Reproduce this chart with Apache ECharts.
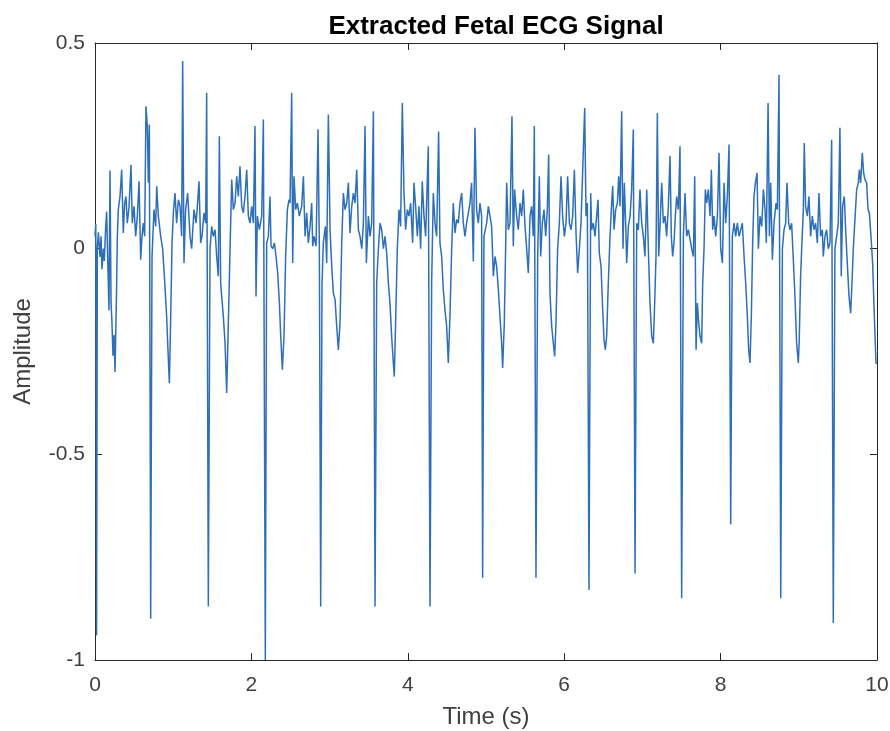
<!DOCTYPE html>
<html>
<head>
<meta charset="utf-8">
<script src="https://cdn.jsdelivr.net/npm/echarts@6/dist/echarts.min.js"></script>
<style>
  html, body { margin: 0; padding: 0; background: #fff; }
  #chart { width: 890px; height: 731px; }
</style>
</head>
<body>
<div id="chart"></div>
<script>
// samples, [time (s), amplitude], one array per ~1.25 s window
const sig0 = [[0,0.03],[0.01,0.06],[0.02,-0.94],[0.03,0.0],[0.043,0.04],[0.064,-0.02],[0.077,0.03],[0.089,-0.05],[0.107,0.0],[0.119,-0.03],[0.136,0.05],[0.149,0.09],[0.162,-0.02],[0.179,-0.15],[0.192,0.19],[0.205,-0.13],[0.217,-0.18],[0.23,-0.26],[0.243,-0.21],[0.256,-0.30],[0.273,-0.13],[0.286,0.03],[0.298,0.095],[0.32,0.127],[0.341,0.192],[0.362,0.038],[0.379,0.11],[0.396,0.127],[0.413,0.062],[0.435,0.10],[0.46,0.204],[0.477,0.062],[0.499,0.103],[0.52,0.03],[0.541,0.079],[0.563,0.164],[0.584,-0.027],[0.601,0.03],[0.618,0.062],[0.635,0.03],[0.652,0.346],[0.669,0.298],[0.682,0.16],[0.695,0.302],[0.712,-0.90],[0.729,-0.02],[0.754,0.095],[0.776,0.054],[0.789,0.152],[0.81,0.079],[0.84,0.03],[0.865,0.0],[0.895,-0.092],[0.916,-0.165],[0.938,-0.27],[0.951,-0.327],[0.968,-0.165],[0.985,0.014],[1.002,0.087],[1.023,0.135],[1.044,0.062],[1.066,0.119],[1.087,0.103],[1.108,0.03],[1.121,0.456],[1.138,-0.035],[1.159,0.095],[1.185,0.135],[1.215,0.03]];
const sig1 = [[1.236,0.0],[1.266,0.095],[1.292,0.062],[1.309,0.103],[1.33,0.164],[1.351,0.014],[1.368,0.03],[1.394,0.087],[1.415,0.062],[1.428,0.379],[1.449,-0.87],[1.471,0.0],[1.492,0.054],[1.513,0.03],[1.535,0.046],[1.556,-0.019],[1.577,-0.067],[1.59,0.273],[1.607,-0.084],[1.62,-0.116],[1.641,-0.165],[1.663,-0.23],[1.684,-0.351],[1.705,-0.181],[1.727,0.0],[1.748,0.168],[1.769,0.095],[1.791,0.111],[1.812,0.176],[1.833,0.127],[1.854,0.2],[1.876,0.103],[1.897,0.087],[1.918,0.127],[1.94,0.192],[1.961,0.079],[1.982,0.062],[2.004,0.103],[2.025,0.062],[2.046,0.298],[2.059,-0.116],[2.076,0.079],[2.102,0.046],[2.132,0.079],[2.153,0.314],[2.178,-1.0],[2.195,0.014],[2.217,0.03],[2.238,0.127],[2.251,0.006],[2.272,0.0],[2.294,0.014],[2.315,-0.019],[2.336,-0.059],[2.358,-0.132],[2.375,-0.213],[2.396,-0.294],[2.417,-0.213],[2.438,-0.019],[2.46,0.095],[2.481,0.119]];
const sig2 = [[2.494,0.111],[2.515,0.379],[2.528,-0.035],[2.545,0.176],[2.566,0.095],[2.588,0.111],[2.613,0.079],[2.643,0.103],[2.665,0.176],[2.686,0.03],[2.707,0.087],[2.728,0.014],[2.75,0.054],[2.771,0.111],[2.784,0.006],[2.801,0.03],[2.827,0.006],[2.852,0.29],[2.869,0.0],[2.886,-0.87],[2.903,-0.084],[2.92,0.014],[2.946,0.054],[2.963,-0.035],[2.984,0.326],[3.006,0.046],[3.027,-0.043],[3.048,-0.108],[3.07,-0.124],[3.091,-0.189],[3.112,-0.246],[3.133,-0.181],[3.155,0.014],[3.176,0.135],[3.197,0.095],[3.219,0.111],[3.24,0.16],[3.261,0.038],[3.283,0.103],[3.304,0.135],[3.325,0.111],[3.347,0.192],[3.368,0.046],[3.389,0.03],[3.411,0.0],[3.432,0.062],[3.453,0.298],[3.47,-0.035],[3.496,0.079],[3.517,0.03],[3.538,0.062],[3.56,0.334],[3.581,-0.87],[3.602,-0.084],[3.624,0.0],[3.645,0.062],[3.666,0.046],[3.688,0.0],[3.709,0.03],[3.73,-0.011],[3.752,-0.084]];
const sig3 = [[3.772,-0.132],[3.793,-0.213],[3.815,-0.278],[3.827,-0.311],[3.844,-0.181],[3.866,0.0],[3.887,0.095],[3.908,0.054],[3.93,0.354],[3.951,0.135],[3.972,0.046],[3.994,0.095],[4.015,0.079],[4.036,0.111],[4.062,0.014],[4.079,0.16],[4.1,0.103],[4.122,0.03],[4.143,0.103],[4.164,0.0],[4.185,0.164],[4.207,0.079],[4.228,0.03],[4.262,0.249],[4.284,-0.87],[4.305,-0.084],[4.326,0.135],[4.348,0.062],[4.369,0.03],[4.394,0.285],[4.411,0.014],[4.433,-0.019],[4.454,-0.1],[4.475,-0.148],[4.497,-0.189],[4.518,-0.278],[4.539,-0.165],[4.561,0.0],[4.582,0.111],[4.603,0.038],[4.625,0.071],[4.646,0.062],[4.667,0.111],[4.689,0.135],[4.71,0.062],[4.731,0.03],[4.752,0.062],[4.774,0.062],[4.795,0.111],[4.816,0.16],[4.838,-0.031],[4.859,0.294],[4.88,0.095],[4.902,0.062],[4.923,0.111],[4.944,0.079],[4.957,-0.80],[4.974,0.03],[5.008,0.062],[5.03,0.103]];
const sig4 = [[5.051,0.103],[5.072,0.054],[5.094,-0.067],[5.115,-0.019],[5.136,-0.043],[5.158,-0.1],[5.179,-0.165],[5.2,-0.23],[5.213,-0.29],[5.234,-0.181],[5.251,0.0],[5.264,0.16],[5.285,0.046],[5.307,0.062],[5.332,0.322],[5.349,0.006],[5.366,0.144],[5.392,0.079],[5.413,0.046],[5.435,0.111],[5.456,0.079],[5.477,0.144],[5.499,0.054],[5.52,0.0],[5.541,-0.059],[5.563,0.079],[5.584,0.103],[5.605,0.03],[5.618,0.298],[5.639,-0.80],[5.661,-0.019],[5.682,0.176],[5.699,-0.019],[5.72,0.062],[5.742,0.095],[5.763,0.03],[5.784,0.095],[5.801,0.229],[5.818,-0.108],[5.84,-0.189],[5.861,-0.23],[5.878,-0.262],[5.895,-0.181],[5.916,0.0],[5.938,0.062],[5.959,0.176],[5.98,0.079],[6.002,0.03],[6.023,0.062],[6.044,0.176],[6.066,0.062],[6.087,0.046],[6.108,0.079],[6.13,0.192],[6.151,0.038],[6.172,-0.059],[6.194,0.0],[6.215,0.062],[6.236,0.062],[6.262,0.342],[6.279,0.079],[6.296,0.111],[6.317,-0.83]];
const sig5 = [[6.339,0.135],[6.351,0.046],[6.373,0.062],[6.394,0.03],[6.415,0.079],[6.432,0.119],[6.449,-0.011],[6.471,-0.043],[6.492,-0.148],[6.509,-0.221],[6.526,-0.246],[6.543,-0.213],[6.564,-0.084],[6.586,0.03],[6.607,0.111],[6.62,0.152],[6.637,0.046],[6.658,0.095],[6.68,0.111],[6.697,0.176],[6.714,0.103],[6.735,0.334],[6.752,0.0],[6.769,0.16],[6.786,0.062],[6.799,-0.035],[6.82,0.054],[6.842,0.079],[6.863,0.144],[6.884,0.29],[6.906,-0.79],[6.927,0.062],[6.948,0.046],[6.969,0.144],[6.991,0.062],[7.012,0.03],[7.033,-0.019],[7.055,0.144],[7.076,0.0],[7.097,-0.132],[7.119,-0.213],[7.14,-0.23],[7.157,-0.132],[7.174,-0.019],[7.191,0.33],[7.208,-0.019],[7.225,0.054],[7.247,0.16],[7.268,0.062],[7.289,0.079],[7.31,0.03],[7.332,0.103],[7.353,0.225],[7.37,0.03],[7.387,-0.019],[7.404,0.014],[7.421,0.079],[7.438,0.127],[7.46,0.095],[7.481,0.249],[7.502,-0.85],[7.524,0.03],[7.545,0.135],[7.566,0.03],[7.588,0.046]];
const sig6 = [[7.609,0.046],[7.63,0.0],[7.652,-0.019],[7.669,0.176],[7.686,-0.246],[7.703,-0.132],[7.72,-0.181],[7.737,-0.213],[7.758,-0.23],[7.771,-0.084],[7.788,0.0],[7.805,0.144],[7.822,0.111],[7.843,0.144],[7.865,0.079],[7.882,0.192],[7.899,0.046],[7.916,0.079],[7.937,0.03],[7.959,0.079],[7.98,0.233],[8.001,0.0],[8.023,-0.035],[8.044,0.16],[8.065,0.062],[8.086,0.127],[8.108,0.253],[8.129,-0.67],[8.15,0.03],[8.172,0.062],[8.193,0.03],[8.214,0.062],[8.236,0.03],[8.257,0.046],[8.278,0.062],[8.3,-0.019],[8.321,-0.084],[8.342,-0.165],[8.359,-0.246],[8.376,-0.278],[8.393,-0.165],[8.41,0.014],[8.427,0.127],[8.445,0.16],[8.466,0.184],[8.483,0.0],[8.504,0.079],[8.526,0.054],[8.547,0.144],[8.568,0.095],[8.585,0.014],[8.607,0.354],[8.624,0.03],[8.641,0.16],[8.662,-0.027],[8.683,0.062],[8.709,0.111],[8.726,0.095],[8.747,0.423],[8.769,-0.85],[8.79,0.0],[8.811,0.046],[8.832,0.062],[8.849,0.16],[8.871,0.062]];
const sig7 = [[8.887,0.046],[8.908,0.062],[8.93,-0.027],[8.951,-0.116],[8.972,-0.23],[8.994,-0.278],[9.006,-0.221],[9.023,-0.067],[9.04,0.014],[9.058,0.095],[9.07,0.257],[9.087,0.103],[9.109,0.079],[9.13,0.127],[9.151,0.03],[9.173,0.079],[9.194,0.046],[9.215,0.062],[9.237,0.014],[9.258,0.135],[9.279,0.03],[9.301,0.046],[9.313,-0.019],[9.335,0.03],[9.356,0.046],[9.377,0.0],[9.399,0.014],[9.42,0.265],[9.441,-0.91],[9.462,0.0],[9.484,0.03],[9.505,0.062],[9.526,0.294],[9.543,-0.067],[9.56,0.103],[9.582,0.127],[9.599,0.046],[9.62,-0.035],[9.642,-0.116],[9.663,-0.157],[9.68,-0.084],[9.697,0.0],[9.718,0.071],[9.74,0.144],[9.761,0.16],[9.774,0.192],[9.791,0.16],[9.812,0.233],[9.829,0.184],[9.846,0.168],[9.868,0.16],[9.885,0.095],[9.902,0.087],[9.923,0.03],[9.944,-0.035],[9.966,-0.165],[9.987,-0.278],[10.0,-0.28]];

const xTicks = [0, 2, 4, 6, 8, 10];
const yTicks = [-1, -0.5, 0, 0.5];

const ecg = [].concat(sig0, sig1, sig2, sig3, sig4, sig5, sig6, sig7);

const chart = echarts.init(document.getElementById('chart'), null, { renderer: 'canvas' });

const font = 'Liberation Sans, Arial, Helvetica, sans-serif';
const axisColor = '#262626';
const textColor = '#404040';

// MATLAB style box: ticks inside on all four sides
const xBase = {
  type: 'value',
  min: xTicks[0],
  max: xTicks[xTicks.length - 1],
  interval: xTicks[1] - xTicks[0],
  axisLine: { show: true, onZero: false, lineStyle: { color: axisColor, width: 1 } },
  axisTick: { show: true, inside: true, length: 7, lineStyle: { color: axisColor } },
  splitLine: { show: false }
};
const yBase = {
  type: 'value',
  min: yTicks[0],
  max: yTicks[yTicks.length - 1],
  interval: yTicks[1] - yTicks[0],
  axisLine: { show: true, onZero: false, lineStyle: { color: axisColor, width: 1 } },
  axisTick: { show: true, inside: true, length: 7, lineStyle: { color: axisColor } },
  splitLine: { show: false }
};

const option = {
  animation: false,
  backgroundColor: '#fff',
  title: {
    text: 'Extracted Fetal ECG Signal',
    left: 491,
    top: 9,
    textAlign: 'center',
    textStyle: { fontFamily: font, fontSize: 26, fontWeight: 'bold', color: '#000' }
  },
  grid: { left: 95, right: 13, top: 43, bottom: 71, outerBoundsMode: 'none' },
  xAxis: [
    Object.assign({}, xBase, {
      position: 'bottom',
      axisLabel: { show: true, fontFamily: font, fontSize: 21, color: textColor, margin: 15 },
      name: 'Time (s)',
      nameLocation: 'middle',
      nameGap: 45,
      nameTextStyle: { fontFamily: font, fontSize: 24, color: textColor }
    }),
    Object.assign({}, xBase, { position: 'top', axisLabel: { show: false } })
  ],
  yAxis: [
    Object.assign({}, yBase, {
      position: 'left',
      axisLabel: { show: true, fontFamily: font, fontSize: 21, color: textColor, margin: 10 },
      name: 'Amplitude',
      nameLocation: 'middle',
      nameGap: 60,
      nameRotate: 90,
      nameTextStyle: { fontFamily: font, fontSize: 24, color: textColor }
    }),
    Object.assign({}, yBase, { position: 'right', axisLabel: { show: false } })
  ],
  series: [
    {
      type: 'line',
      data: ecg,
      showSymbol: false,
      symbol: 'none',
      sampling: null,
      clip: true,
      lineStyle: { color: '#2e6fba', width: 1.5 },
      emphasis: { disabled: true }
    }
  ]
};

chart.setOption(option);
</script>
</body>
</html>
